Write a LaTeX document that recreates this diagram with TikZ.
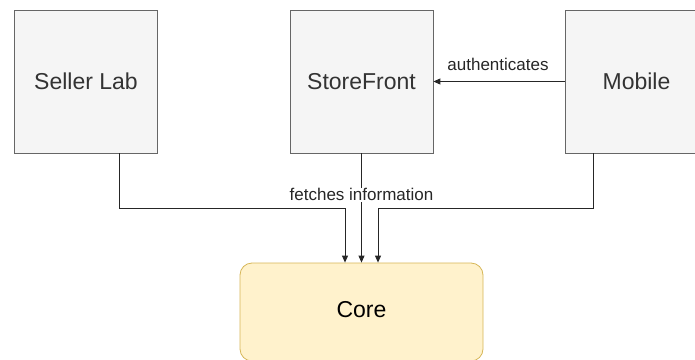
\documentclass[tikz,border=0pt]{standalone}
\usepackage{fontspec}
\setmainfont{Liberation Sans}
\usetikzlibrary{arrows.meta}
\definecolor{boxfill}{HTML}{F5F5F5}
\definecolor{boxline}{HTML}{666666}
\definecolor{boxtext}{HTML}{333333}
\definecolor{corefill}{HTML}{FFF2CC}
\definecolor{coreline}{HTML}{D6B656}
\tikzset{
  sysbox/.style={draw=boxline, fill=boxfill, line width=0.8pt, text=boxtext,
    minimum width=143pt, minimum height=143pt, inner sep=0pt,
    font=\fontsize{23}{27}\selectfont},
  corebox/.style={draw=coreline, fill=corefill, line width=0.8pt, rounded corners=12pt,
    minimum width=243pt, minimum height=98pt, inner sep=0pt,
    font=\fontsize{23}{27}\selectfont},
  conn/.style={draw=black!85, line width=0.9pt, -{Triangle[length=7pt,width=6pt]}},
  lbl/.style={fill=white, inner sep=1pt, text=black!85, font=\fontsize{17}{20}\selectfont}
}
\begin{document}
\begin{tikzpicture}[x=1pt,y=-1pt]
\useasboundingbox (0,0) rectangle (695,359);
\clip (0,0) rectangle (695,359);
\node[sysbox] (seller) at (86,81.5) {Seller Lab};
\node[sysbox] (store) at (361.5,81.5) {StoreFront};
\node[sysbox] (mobile) at (636.5,81.5) {Mobile};
\node[corebox] (core) at (361.5,312) {};
\node[font=\fontsize{23}{27}\selectfont] (coretext) at (361.5,310) {Core};
\coordinate (s1) at (119,208);
\coordinate (s2) at (345,208);
\coordinate (m1) at (593,208);
\coordinate (m2) at (378,208);
\draw[conn, -] (seller.south -| s1) -- (s1) -- (s2);
\draw[conn] (s2) -- (s2 |- core.north);
\draw[conn, -] (mobile.south -| m1) -- (m1) -- (m2);
\draw[conn] (m2) -- (m2 |- core.north);
\draw[conn] (store.south) -- node[lbl, pos=0.38] (fetch) {fetches information} (core.north);
\draw[conn] (mobile.west) -- (store.east);
\node[lbl, fill=none] (auth) at (498,64) {authenticates};
\end{tikzpicture}
\end{document}
